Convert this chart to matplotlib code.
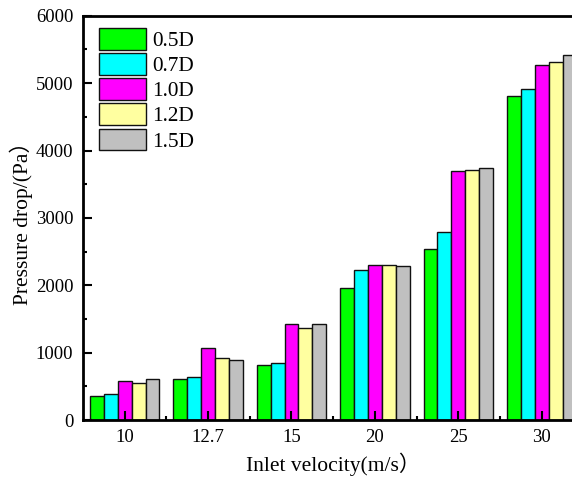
import numpy as np
import matplotlib
matplotlib.use("Agg")
import matplotlib.pyplot as plt

# Pressure drop (Pa) for each outlet-pipe insertion depth at each inlet velocity
velocities = ["10", "12.7", "15", "20", "25", "30"]
depths = ["0.5D", "0.7D", "1.0D", "1.2D", "1.5D"]
drop_05d = [365, 615, 815, 1960, 2535, 4815]
drop_07d = [390, 635, 850, 2230, 2795, 4915]
drop_10d = [580, 1065, 1420, 2300, 3690, 5270]
drop_12d = [545, 930, 1365, 2295, 3715, 5310]
drop_15d = [615, 890, 1430, 2285, 3745, 5410]

colors = ["#00ff00", "#00ffff", "#ff00ff", "#ffffa0", "#c0c0c0"]

plt.rcParams["font.family"] = ["Liberation Serif", "Noto Sans CJK SC"]
plt.rcParams["font.size"] = 13.5

fig = plt.figure(figsize=(5.72, 4.78), dpi=100)
W, H = 572, 478
ax = fig.add_axes([83 / W, 1 - 420.2 / H, 500.4 / W, 404.5 / H])

series = [drop_05d, drop_07d, drop_10d, drop_12d, drop_15d]
x = np.arange(len(velocities))
width = 1 / 6
for j, (vals, label, c) in enumerate(zip(series, depths, colors)):
    ax.bar(x + (j - 2) * width, vals, width, color=c, edgecolor="#111111",
           linewidth=1.0, label=label)

ax.set_xlim(-0.5, len(velocities) - 0.5)
ax.set_ylim(0, 6000)
ax.set_xticks(x)
ax.set_xticklabels(velocities)
ax.set_xticks(x[:-1] + 0.5, minor=True)
ax.set_yticks(np.arange(0, 6001, 1000))
ax.set_yticks(np.arange(500, 6000, 1000), minor=True)
ax.tick_params(which="major", direction="in", length=6.5, width=1.5,
               labelsize=13.5, pad=6)
ax.tick_params(which="minor", direction="in", length=3, width=1.5)
ax.tick_params(axis="y", which="major", pad=7)

for side in ["left", "bottom", "top", "right"]:
    ax.spines[side].set_linewidth(2)

ax.set_ylabel("Pressure drop/(Pa）", fontsize=15.5, labelpad=2)
ax.set_xlabel("Inlet velocity(m/s）", fontsize=15.5, labelpad=5)

ax.legend(loc="upper left", bbox_to_anchor=(0.032, 0.97), frameon=False,
          borderaxespad=0, borderpad=0, handlelength=2.2, handleheight=1.2,
          labelspacing=0.1, handletextpad=0.3, fontsize=15.3)

fig.savefig("out.png", dpi=100)
